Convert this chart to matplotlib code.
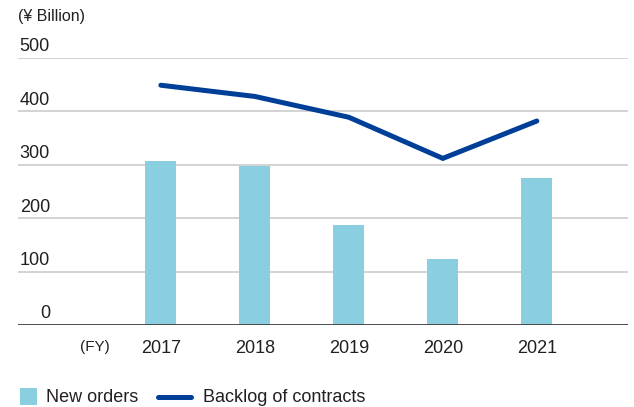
import matplotlib.pyplot as plt
from matplotlib.patches import Rectangle
from matplotlib.lines import Line2D
import matplotlib.transforms as mtransforms

plt.rcParams['font.family'] = ['Liberation Sans', 'DejaVu Sans']

years = ['2017', '2018', '2019', '2020', '2021']
new_orders = [308, 297, 187, 123, 275]
backlog = [449, 428, 389, 312, 382]
yticks = [0, 100, 200, 300, 400, 500]

bar_color = '#89cfe0'
line_color = '#003f98'
text_color = '#231f20'

W, H = 634, 407
fig = plt.figure(figsize=(W / 100, H / 100), dpi=100)
ax = fig.add_axes([18 / W, 82 / H, 610 / W, 267 / H])

x = list(range(len(years)))
ax.bar(x, new_orders, width=0.33, color=bar_color, zorder=2)
ax.plot(x, backlog, color=line_color, lw=3.6, solid_capstyle='round',
        solid_joinstyle='miter', zorder=3, clip_on=False)

ax.set_xlim(-1.52, 4.97)
ax.set_ylim(0, 500)

# gridlines and zero line
for v in yticks[1:]:
    ax.axhline(v, color='#c8c8c8', lw=1.1, zorder=1)
ax.axhline(0, color='#3c3c3c', lw=2, zorder=4)

for s in ax.spines.values():
    s.set_visible(False)
ax.set_yticks([])
ax.set_xticks(x)
ax.set_xticklabels(years, fontsize=13, color=text_color)
ax.tick_params(axis='x', length=0, pad=11)

# y labels sit above their gridlines
tr = mtransforms.blended_transform_factory(ax.transAxes, ax.transData)
for v in yticks:
    ax.text(32 / 610, v + 5, str(v), transform=tr, ha='right', va='bottom',
            fontsize=13, color=text_color)

ax.text(-0.7, -41, '(FY)', ha='center', va='center', fontsize=11,
        color=text_color, transform=ax.transData)
fig.text(18 / W, 1 - 17 / H, '(\u00a5 Billion)', ha='left', va='center',
         fontsize=11.5, color=text_color)

# legend drawn by hand: square swatch and a longer line key
ly = 1 - 397 / H
fig.patches.append(Rectangle((20 / W, 1 - 405 / H), 17 / W, 17 / H,
                             facecolor=bar_color, edgecolor='none',
                             transform=fig.transFigure))
fig.text(46 / W, ly, 'New orders', ha='left', va='center', fontsize=13,
         color=text_color)
fig.lines.append(Line2D([158 / W, 191 / W], [ly, ly], color=line_color,
                        lw=3.6, solid_capstyle='round',
                        transform=fig.transFigure))
fig.text(203 / W, ly, 'Backlog of contracts', ha='left', va='center',
         fontsize=13, color=text_color)

fig.savefig('out.png', dpi=100)
